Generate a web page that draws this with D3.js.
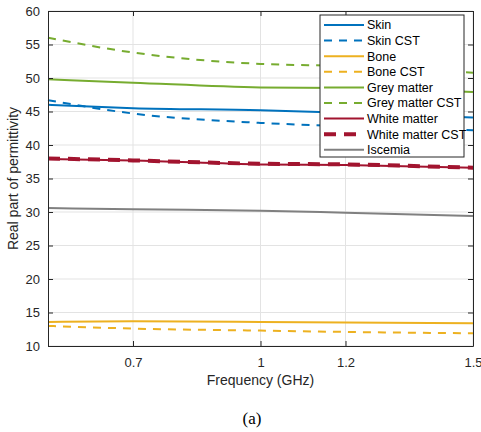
<!DOCTYPE html>
<html lang="en">
<head>
<meta charset="UTF-8">
<title>Real part of permittivity</title>
<script src="https://d3js.org/d3.v7.min.js"></script>
<style>
  body { margin: 0; background: #fff; }
  svg { display: block; font-family: "Liberation Sans", Arial, sans-serif; }
  .tick text { font-size: 13px; fill: #262626; }
</style>
</head>
<body>
<svg id="chart" width="481" height="432"></svg>
<script>
// data
const freq = [0.5, 0.7, 1.0, 1.2, 1.5];
const skin = [46.0, 45.5, 45.2, 44.8, 44.1];
const skinCST = [46.7, 44.7, 43.3, 42.8, 42.2];
const bone = [13.6, 13.7, 13.6, 13.5, 13.4];
const boneCST = [13.0, 12.6, 12.3, 12.1, 11.9];
const grey = [49.8, 49.3, 48.6, 48.5, 47.9];
const greyCST = [56.0, 53.8, 52.1, 51.8, 50.8];
const white = [37.9, 37.7, 37.1, 37.0, 36.6];
const whiteCST = [38.0, 37.7, 37.2, 37.1, 36.6];
const iscemia = [30.6, 30.4, 30.2, 29.9, 29.4];

const xTicks = [0.7, 1, 1.2, 1.5];
const yTicks = [10, 15, 20, 25, 30, 35, 40, 45, 50, 55, 60];

const series = [
  { name: "Skin", values: skin, color: "#0072BD", dash: null, width: 2 },
  { name: "Skin CST", values: skinCST, color: "#0072BD", dash: "8,7", width: 2 },
  { name: "Bone", values: bone, color: "#EDB120", dash: null, width: 2 },
  { name: "Bone CST", values: boneCST, color: "#EDB120", dash: "8,7", width: 2 },
  { name: "Grey matter", values: grey, color: "#77AC30", dash: null, width: 2 },
  { name: "Grey matter CST", values: greyCST, color: "#77AC30", dash: "8,7", width: 2 },
  { name: "White matter", values: white, color: "#A2142F", dash: null, width: 2 },
  { name: "White matter CST", values: whiteCST, color: "#A2142F", dash: "12,8", width: 4 },
  { name: "Iscemia", values: iscemia, color: "#808080", dash: null, width: 2 }
];

const svg = d3.select("#chart");
const mLeft = 48, mRight = 473, mTop = 11, mBottom = 346;

const x = d3.scaleLinear().domain([0.5, 1.5]).range([mLeft, mRight]);
const y = d3.scaleLinear().domain([10, 60]).range([mBottom, mTop]);

// grid
svg.append("g").selectAll("line").data(yTicks).join("line")
  .attr("x1", mLeft).attr("x2", mRight)
  .attr("y1", d => y(d)).attr("y2", d => y(d))
  .attr("stroke", "#e3e3e3").attr("stroke-width", 1);
svg.append("g").selectAll("line").data(xTicks).join("line")
  .attr("x1", d => x(d)).attr("x2", d => x(d))
  .attr("y1", mTop).attr("y2", mBottom)
  .attr("stroke", "#e3e3e3").attr("stroke-width", 1);

// lines
const line = d3.line().x((d, i) => x(freq[i])).y(d => y(d)).curve(d3.curveMonotoneX);
svg.append("g").selectAll("path").data(series).join("path")
  .attr("d", s => line(s.values))
  .attr("fill", "none")
  .attr("stroke", s => s.color)
  .attr("stroke-width", s => s.width)
  .attr("stroke-dasharray", s => s.dash);

// axes, ticks inward
const xAxis = svg.append("g").attr("transform", `translate(0,${mBottom})`)
  .call(d3.axisBottom(x).tickValues(xTicks).tickFormat(d3.format("")).tickSizeInner(-5).tickSizeOuter(0).tickPadding(12));
const xTop = svg.append("g").attr("transform", `translate(0,${mTop})`)
  .call(d3.axisTop(x).tickValues(xTicks).tickFormat("").tickSizeInner(-5).tickSizeOuter(0));
const yAxis = svg.append("g").attr("transform", `translate(${mLeft},0)`)
  .call(d3.axisLeft(y).tickValues(yTicks).tickSizeInner(-5).tickSizeOuter(0).tickPadding(8));
const yRight = svg.append("g").attr("transform", `translate(${mRight},0)`)
  .call(d3.axisRight(y).tickValues(yTicks).tickFormat("").tickSizeInner(-5).tickSizeOuter(0));
[xAxis, xTop, yAxis, yRight].forEach(g => {
  g.select(".domain").attr("stroke", "#262626");
  g.selectAll(".tick line").attr("stroke", "#262626");
});

// legend
const lg = svg.append("g").attr("transform", "translate(320,15)");
lg.append("rect").attr("width", 144).attr("height", 142)
  .attr("fill", "#fff").attr("stroke", "#262626").attr("stroke-width", 1);
const rows = lg.selectAll("g").data(series).join("g")
  .attr("transform", (d, i) => `translate(0,${10 + i * 15.6})`);
rows.append("line").attr("x1", 4).attr("x2", 44)
  .attr("stroke", s => s.color)
  .attr("stroke-width", s => s.width)
  .attr("stroke-dasharray", s => s.dash);
rows.append("text").attr("x", 47).attr("dy", "0.35em")
  .attr("font-size", 12.5).attr("fill", "#000")
  .text(s => s.name);

// labels
svg.append("text").attr("x", (mLeft + mRight) / 2).attr("y", 385)
  .attr("text-anchor", "middle").attr("font-size", 14).attr("fill", "#262626")
  .text("Frequency (GHz)");
svg.append("text").attr("transform", `translate(18,${(mTop + mBottom) / 2}) rotate(-90)`)
  .attr("text-anchor", "middle").attr("font-size", 14).attr("fill", "#262626")
  .text("Real part of permittivity");
svg.append("text").attr("x", 252).attr("y", 424)
  .attr("text-anchor", "middle").attr("font-size", 17)
  .attr("font-family", "'Liberation Serif', 'Times New Roman', serif")
  .text("(a)");
</script>
</body>
</html>
